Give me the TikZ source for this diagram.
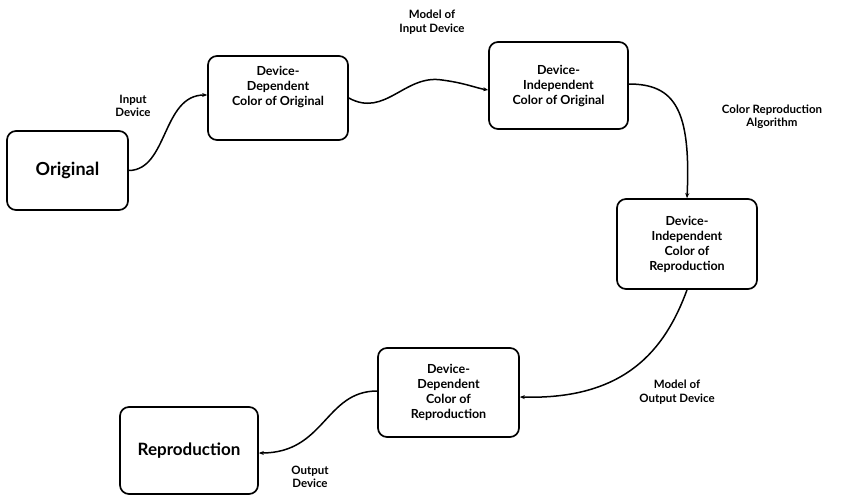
\documentclass[tikz,border=0pt]{standalone}
\usepackage{fontspec}
\setmainfont{Lato}
\usetikzlibrary{arrows.meta}
\tikzset{
  box/.style={draw, line width=1.7pt, rounded corners=9pt, align=center, inner sep=0pt, font=\fontsize{12.5}{15}\selectfont\bfseries},
  lbl/.style={align=center, font=\fontsize{11.5}{13.5}\selectfont\bfseries},
  conn/.style={line width=1.5pt, -{Stealth[length=5pt,width=4pt]}}
}
\begin{document}
\begin{tikzpicture}[x=1pt,y=-1pt]
\useasboundingbox (0,0) rectangle (852,496);
\node[box, minimum width=121pt, minimum height=79pt, font=\fontsize{18}{20}\selectfont\bfseries] (orig) at (67.5,170.5) {Original};
\node[box, minimum width=140pt, minimum height=84pt] (ddo) at (278,98) {Device-\\Dependent\\Color of Original\\[10pt]};
\node[box, minimum width=139pt, minimum height=87pt] (dio) at (558.5,85.5) {Device-\\Independent\\Color of Original};
\node[box, minimum width=140pt, minimum height=90pt] (dir) at (687,244) {Device-\\Independent\\Color of\\Reproduction};
\node[box, minimum width=141pt, minimum height=89pt] (ddr) at (448.5,392.5) {Device-\\Dependent\\Color of\\Reproduction};
\node[box, minimum width=138pt, minimum height=87pt, font=\fontsize{17}{19}\selectfont\bfseries] (rep) at (189,450.5) {Reproduction};

\node[lbl] (l1) at (133,106) {Input\\Device};
\node[lbl] (l2) at (432,22) {Model of\\Input Device};
\node[lbl] (l3) at (772,117) {Color Reproduction\\Algorithm};
\node[lbl] (l4) at (677,392) {Model of\\Output Device};
\node[lbl] (l5) at (310,477) {Output\\Device};

\draw[conn] (orig.east) .. controls (168,170) and (162,95) .. (ddo.west |- 0,95);
\draw[conn] (ddo.east |- 0,98) .. controls (385,118) and (405,74) .. (442,80) .. controls (465,83) and (476,88) .. (dio.west |- 0,90);
\draw[conn] (dio.east |- 0,84) .. controls (675,84) and (691,110) .. (dir.north);
\draw[conn] (dir.south) .. controls (665,350) and (625,400) .. (ddr.east |- 0,397);
\draw[conn] (ddr.west |- 0,391) .. controls (325,391) and (325,453) .. (rep.east |- 0,453);
\end{tikzpicture}
\end{document}
